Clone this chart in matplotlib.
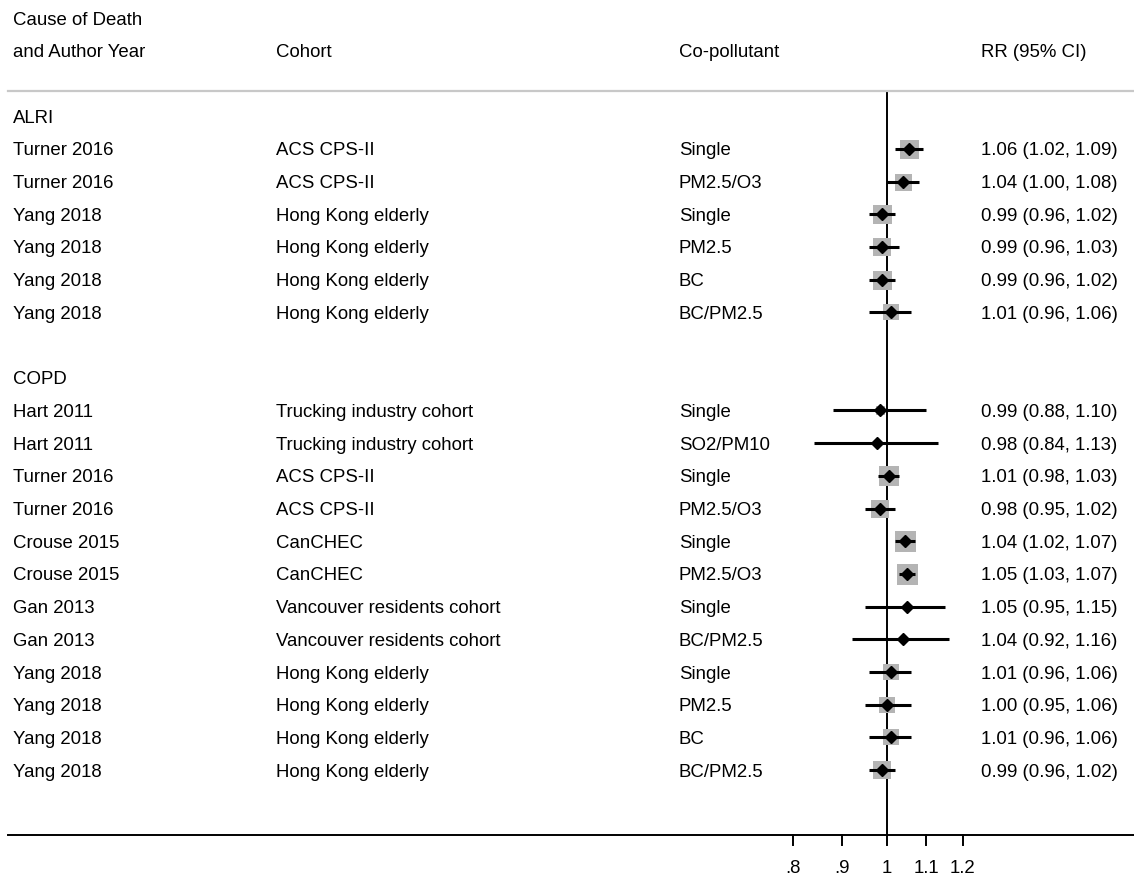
import numpy as np
import matplotlib.pyplot as plt
import matplotlib.transforms as mtransforms

plt.rcParams['font.family'] = ['Liberation Sans', 'DejaVu Sans']

# 数据
groups = ["ALRI", "COPD"]
group_rows = [3, 11]
authors = ["Turner 2016", "Turner 2016", "Yang 2018", "Yang 2018", "Yang 2018", "Yang 2018",
           "Hart 2011", "Hart 2011", "Turner 2016", "Turner 2016", "Crouse 2015", "Crouse 2015",
           "Gan 2013", "Gan 2013", "Yang 2018", "Yang 2018", "Yang 2018", "Yang 2018"]
cohorts = ["ACS CPS-II", "ACS CPS-II", "Hong Kong elderly", "Hong Kong elderly",
           "Hong Kong elderly", "Hong Kong elderly",
           "Trucking industry cohort", "Trucking industry cohort", "ACS CPS-II", "ACS CPS-II",
           "CanCHEC", "CanCHEC", "Vancouver residents cohort", "Vancouver residents cohort",
           "Hong Kong elderly", "Hong Kong elderly", "Hong Kong elderly", "Hong Kong elderly"]
copollutants = ["Single", "PM2.5/O3", "Single", "PM2.5", "BC", "BC/PM2.5",
                "Single", "SO2/PM10", "Single", "PM2.5/O3", "Single", "PM2.5/O3",
                "Single", "BC/PM2.5", "Single", "PM2.5", "BC", "BC/PM2.5"]
rr = [1.055, 1.04, 0.99, 0.99, 0.99, 1.01,
      0.985, 0.977, 1.005, 0.985, 1.045, 1.05,
      1.05, 1.04, 1.01, 1.002, 1.012, 0.99]
lo = [1.02, 1.00, 0.96, 0.96, 0.96, 0.96,
      0.88, 0.84, 0.98, 0.95, 1.02, 1.03,
      0.95, 0.92, 0.96, 0.95, 0.96, 0.96]
hi = [1.09, 1.08, 1.02, 1.03, 1.02, 1.06,
      1.10, 1.13, 1.03, 1.02, 1.07, 1.07,
      1.15, 1.16, 1.06, 1.06, 1.06, 1.02]
rr_labels = ["1.06 (1.02, 1.09)", "1.04 (1.00, 1.08)", "0.99 (0.96, 1.02)", "0.99 (0.96, 1.03)",
             "0.99 (0.96, 1.02)", "1.01 (0.96, 1.06)",
             "0.99 (0.88, 1.10)", "0.98 (0.84, 1.13)", "1.01 (0.98, 1.03)", "0.98 (0.95, 1.02)",
             "1.04 (1.02, 1.07)", "1.05 (1.03, 1.07)", "1.05 (0.95, 1.15)", "1.04 (0.92, 1.16)",
             "1.01 (0.96, 1.06)", "1.00 (0.95, 1.06)", "1.01 (0.96, 1.06)", "0.99 (0.96, 1.02)"]
rows = [4, 5, 6, 7, 8, 9, 12, 13, 14, 15, 16, 17, 18, 19, 20, 21, 22, 23]
# 方框边长（像素）
box_px = [19, 17, 19, 18, 19, 16, 9, 6, 20, 18, 21, 21, 6, 5, 16, 16, 16, 18]
xticks = [0.8, 0.9, 1, 1.1, 1.2]
xtick_labels = [".8", ".9", "1", "1.1", "1.2"]

W, H = 1134, 877
fig = plt.figure(figsize=(W / 100, H / 100), dpi=100)
ax = fig.add_axes([0, 0, 1, 1])
ax.set_xscale('log')

# 坐标：x=1 在 886.5 px，每个对数单位 418 px；行距 32.7 px
x0, k = 886.5, 418.0
ax.set_xlim(np.exp(-x0 / k), np.exp((W - x0) / k))
y_top, dy = 18, 32.7
ax.set_ylim((H - y_top) / dy, -y_top / dy)
ax.axis('off')

fs = 13.4
base = 0.2  # 基线相对行中心的偏移
col_x = [13 / W, 276 / W, 679 / W, 981 / W]
blend = mtransforms.blended_transform_factory(fig.transFigure, ax.transData)


def cell(x, r, s):
    ax.text(x, r + base, s, transform=blend, va='baseline', fontsize=fs)


# 表头
cell(col_x[0], 0, "Cause of Death")
cell(col_x[0], 1, "and Author Year")
cell(col_x[1], 1, "Cohort")
cell(col_x[2], 1, "Co-pollutant")
cell(col_x[3], 1, "RR (95% CI)")

# 表头下的灰线
line_y = (91 - y_top) / dy
ax.plot([8 / W, 1], [line_y, line_y], transform=blend, color='#c8c8c8', lw=1.6)

for g, r in zip(groups, group_rows):
    cell(col_x[0], r, g)

for i in range(len(rows)):
    r = rows[i]
    cell(col_x[0], r, authors[i])
    cell(col_x[1], r, cohorts[i])
    cell(col_x[2], r, copollutants[i])
    cell(col_x[3], r, rr_labels[i])
    # 权重方框
    ax.plot(rr[i], r, marker='s', markersize=box_px[i] * 0.72, color='#b4b4b4',
            markeredgewidth=0, zorder=2)
    # 置信区间
    ax.plot([lo[i], hi[i]], [r, r], color='black', lw=2.2, zorder=3, solid_capstyle='butt')
    # 点估计
    ax.plot(rr[i], r, marker='D', markersize=6, color='black', zorder=4)

# 无效线
axis_row = (835 - y_top) / dy
ax.plot([1, 1], [line_y + 0.03, axis_row], color='black', lw=1.4, zorder=1)

# 底部坐标轴
ax.plot([8 / W, 1], [axis_row, axis_row], transform=blend, color='black', lw=1.4)
for t, lab in zip(xticks, xtick_labels):
    ax.plot([t, t], [axis_row, axis_row + 0.3], color='black', lw=1.4)
    ax.text(t, (866 - y_top) / dy + base, lab, ha='center', va='baseline', fontsize=fs)

plt.savefig('out.png', dpi=100)
